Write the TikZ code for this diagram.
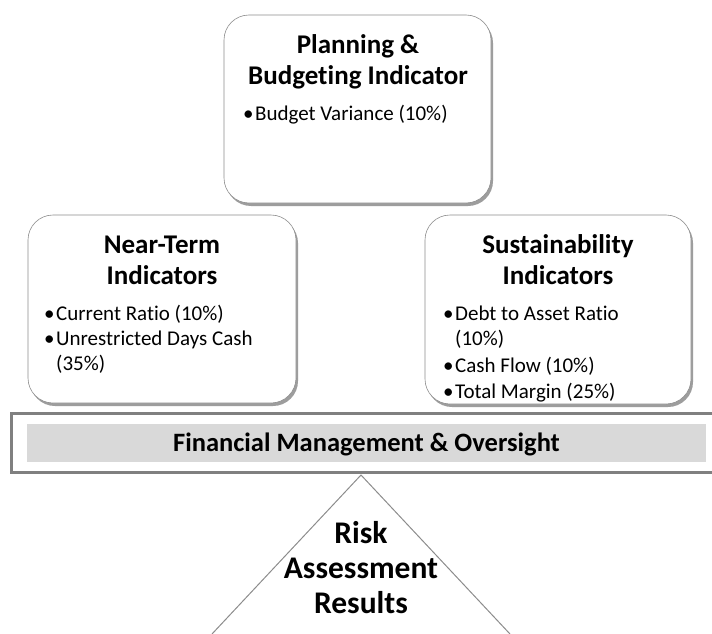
\documentclass[tikz,border=0pt]{standalone}
\usepackage{fontspec}
\setmainfont{Carlito}[Ligatures=NoCommon]
\usetikzlibrary{shadows}

\tikzset{
  panel/.style={draw=black!45, line width=0.6pt, fill=white, rounded corners=25pt,
    drop shadow={shadow xshift=2pt, shadow yshift=-3pt, opacity=.55, fill=black!70}},
  head/.style={font=\fontsize{27}{31}\selectfont\bfseries, align=center, inner sep=0pt, anchor=base},
  items/.style={font=\fontsize{21}{25}\selectfont, inner sep=0pt, anchor=north west},
}
\newcommand{\bul}{\textbullet}

\begin{document}
\begin{tikzpicture}[x=1pt,y=-1pt]
  \useasboundingbox (0,0) rectangle (712,634);
  % boxes
  \node[panel, minimum width=267pt, minimum height=188pt] (plan) at (357.5,109) {};
  \node[panel, minimum width=268pt, minimum height=188pt] (near) at (162,309) {};
  \node[panel, minimum width=266pt, minimum height=189pt] (sust) at (558,309.5) {};
  % titles (anchor = baseline of last line)
  \node[head] (plantitle) at (358,84.5) {Planning \&\\Budgeting Indicator};
  \node[head] (neartitle) at (162,284.5) {Near-Term\\Indicators};
  \node[head] (susttitle) at (558,284.5) {Sustainability\\Indicators};
  % bullet lists
  \node[items] (planlist) at (243,103) {\begin{tabular}{@{}l@{\hspace{1.5pt}}l@{}}
    \bul & Budget Variance (10\%)
  \end{tabular}};
  \node[items] (nearlist) at (44,303) {\begin{tabular}{@{}l@{\hspace{1.5pt}}l@{}}
    \bul & Current Ratio (10\%)\\
    \bul & Unrestricted Days Cash\\
         & (35\%)
  \end{tabular}};
  \node[items] (sustlist) at (443,303) {\begin{tabular}{@{}l@{\hspace{1.5pt}}l@{}}
    \bul & Debt to Asset Ratio\\
         & (10\%)\\[1.5pt]
    \bul & Cash Flow (10\%)\\[1.5pt]
    \bul & Total Margin (25\%)
  \end{tabular}};
  % oversight bar
  \draw[black!50, line width=3pt] (11,413) rectangle (720,472);
  \fill[black!15] (27,424) rectangle (706,462);
  \node[font=\fontsize{26.5}{30}\selectfont\bfseries, inner sep=0pt, anchor=base] (bar) at (366.5,451) {Financial Management \& Oversight};
  % pyramid
  \coordinate (apex) at (361,475);
  \coordinate (left) at (212,634);
  \coordinate (right) at (510,634);
  \draw[black!45, line width=1pt] (left) -- (apex) -- (right);
  \node[head, font=\fontsize{31.5}{35}\selectfont\bfseries] (risk) at (361,613) {Risk\\Assessment\\Results};
\end{tikzpicture}
\end{document}
